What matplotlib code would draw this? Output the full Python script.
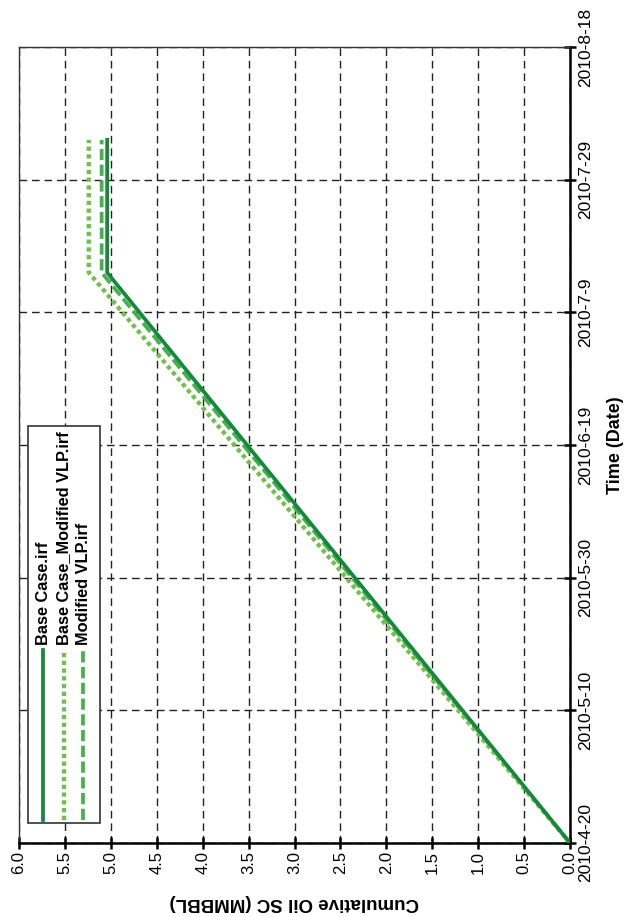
import matplotlib
matplotlib.use("Agg")
import matplotlib.pyplot as plt
import matplotlib.dates as mdates

plt.rcParams['font.family'] = ['Liberation Sans', 'DejaVu Sans']

# cumulative oil vs time for the three runs
dates = ['2010-4-20', '2010-7-15', '2010-8-4']
base_case = [0.0, 5.04, 5.04]
base_case_mod_vlp = [0.0, 5.24, 5.24]
modified_vlp = [0.0, 5.10, 5.10]

date_ticks = ['2010-4-20', '2010-5-10', '2010-5-30', '2010-6-19',
              '2010-7-9', '2010-7-29', '2010-8-18']
oil_ticks = [0.0, 0.5, 1.0, 1.5, 2.0, 2.5, 3.0, 3.5, 4.0, 4.5, 5.0, 5.5, 6.0]
oil_labels = ['0.0', '0.5', '1.0', '1.5', '2.0', '2.5', '3.0', '3.5',
              '4.0', '4.5', '5.0', '5.5', '6.0']

series_names = ['Base Case.irf', 'Base Case_Modified VLP.irf', 'Modified VLP.irf']
colors = ['#14893c', '#72c04c', '#45b14a']


def to_num(ds):
    return [mdates.datestr2num(d) for d in ds]


t = to_num(dates)
tt = to_num(date_ticks)

fig = plt.figure(figsize=(6.3, 9.17), dpi=100)
ax = fig.add_axes([19 / 630, 74 / 917, 551 / 630, 796 / 917])

# chart is laid out sideways: oil on the horizontal axis (reversed), time upward
ax.plot(modified_vlp, t, color=colors[2], lw=2.7, ls=(0, (3.0, 1.2)), zorder=3)
ax.plot(base_case_mod_vlp, t, color=colors[1], lw=3.1, ls=(0, (1.0, 0.8)), zorder=4)
ax.plot(base_case, t, color=colors[0], lw=2.7, zorder=5)

ax.set_xlim(6.0, 0.0)
ax.set_ylim(tt[0], tt[-1])

ax.set_xticks(oil_ticks)
ax.set_xticklabels(oil_labels, rotation=90, fontsize=12)
ax.set_yticks(tt)
ax.set_yticklabels(date_ticks, rotation=90, va='center', fontsize=12.5)
ax.yaxis.tick_right()
ax.tick_params(axis='x', direction='inout', length=9, width=1.8, pad=1)
ax.tick_params(axis='y', direction='inout', length=9, width=1.8, pad=1.5)

ax.grid(True, color='#222222', lw=1.0, ls=(0, (5.5, 3.5)))

for side in ['top', 'left']:
    ax.spines[side].set_linewidth(1.0)
    ax.spines[side].set_color('#333333')
for side in ['bottom', 'right']:
    ax.spines[side].set_linewidth(1.8)

ax.text(0.5, -0.075, 'Cumulative Oil SC (MMBBL)', transform=ax.transAxes,
        rotation=180, ha='center', va='center', fontsize=13.5, fontweight='bold')
ax.text(1.082, 0.5, 'Time (Date)', transform=ax.transAxes,
        rotation=90, ha='center', va='center', fontsize=13, fontweight='bold')

# legend box, turned with the rest of the chart
box = plt.Rectangle((0.016, 0.025), 0.131, 0.499, transform=ax.transAxes,
                    facecolor='white', edgecolor='#333333', lw=1.2, zorder=6)
ax.add_patch(box)
row_x = [0.044, 0.081, 0.117]
styles = [dict(lw=2.7, ls='-'), dict(lw=3.1, ls=(0, (1.0, 0.8))),
          dict(lw=2.7, ls=(0, (3.0, 1.2)))]
for x, name, c, st in zip(row_x, series_names, colors, styles):
    ax.plot([x, x], [0.029, 0.243], transform=ax.transAxes, color=c,
            zorder=7, clip_on=False, **st)
    ax.text(x, 0.249, name, transform=ax.transAxes, rotation=90,
            ha='center', va='bottom', fontsize=11.8, fontweight='bold', zorder=7)

fig.savefig('out.png', dpi=100)
